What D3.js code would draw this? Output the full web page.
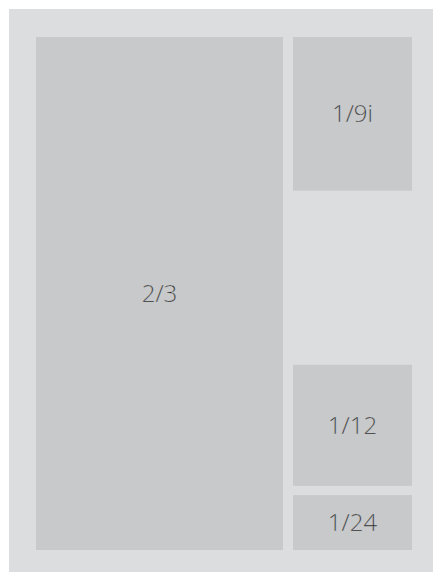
<!DOCTYPE html>
<html>
<head>
<meta charset="utf-8">
<script src="https://cdn.jsdelivr.net/npm/d3@7"></script>
<style>
  html, body { margin: 0; padding: 0; background: #ffffff; }
  svg { display: block; }
</style>
</head>
<body>
<div id="content"></div>
<script>
var width = 434,
    height = 572;

// the panels of the layout, as fractions of the inner area
var labels = ["2/3", "1/9i", "1/12", "1/24"];
var colStart = [0, 0.6835, 0.6835, 0.6835];
var colEnd = [0.657, 1, 1, 1];
var rowStart = [0, 0, 0.639, 0.893];
var rowEnd = [1, 0.2996, 0.875, 1];

var cells = labels.map(function (d, i) {
    return { label: d, x0: colStart[i], x1: colEnd[i], y0: rowStart[i], y1: rowEnd[i] };
});

var svg = d3.select("#content")
    .append("svg")
    .attr("width", width)
    .attr("height", height);

// background panel
svg.append("rect")
    .attr("x", 9)
    .attr("y", 9)
    .attr("width", 424)
    .attr("height", height - 9)
    .attr("fill", "#dcdddf");

var x = d3.scaleLinear().domain([0, 1]).range([36, 412]);
var y = d3.scaleLinear().domain([0, 1]).range([37, 550]);

var g = svg.selectAll("g.cell")
    .data(cells)
    .enter()
    .append("g")
    .attr("class", "cell");

g.append("rect")
    .attr("x", function (d) { return x(d.x0); })
    .attr("y", function (d) { return y(d.y0); })
    .attr("width", function (d) { return x(d.x1) - x(d.x0); })
    .attr("height", function (d) { return y(d.y1) - y(d.y0); })
    .attr("fill", "#c8c9cb");

// thin the glyphs a little with a stroke in the cell colour (no light weight installed)
g.append("text")
    .attr("x", function (d) { return (x(d.x0) + x(d.x1)) / 2; })
    .attr("y", function (d) { return (y(d.y0) + y(d.y1)) / 2; })
    .attr("dy", "0.35em")
    .attr("text-anchor", "middle")
    .style("font-family", "'Open Sans', sans-serif")
    .style("font-weight", 300)
    .style("font-size", "24px")
    .attr("fill", "#222222")
    .attr("stroke", "#c8c9cb")
    .attr("stroke-width", 0.3)
    .text(function (d) { return d.label; });
</script>
</body>
</html>
